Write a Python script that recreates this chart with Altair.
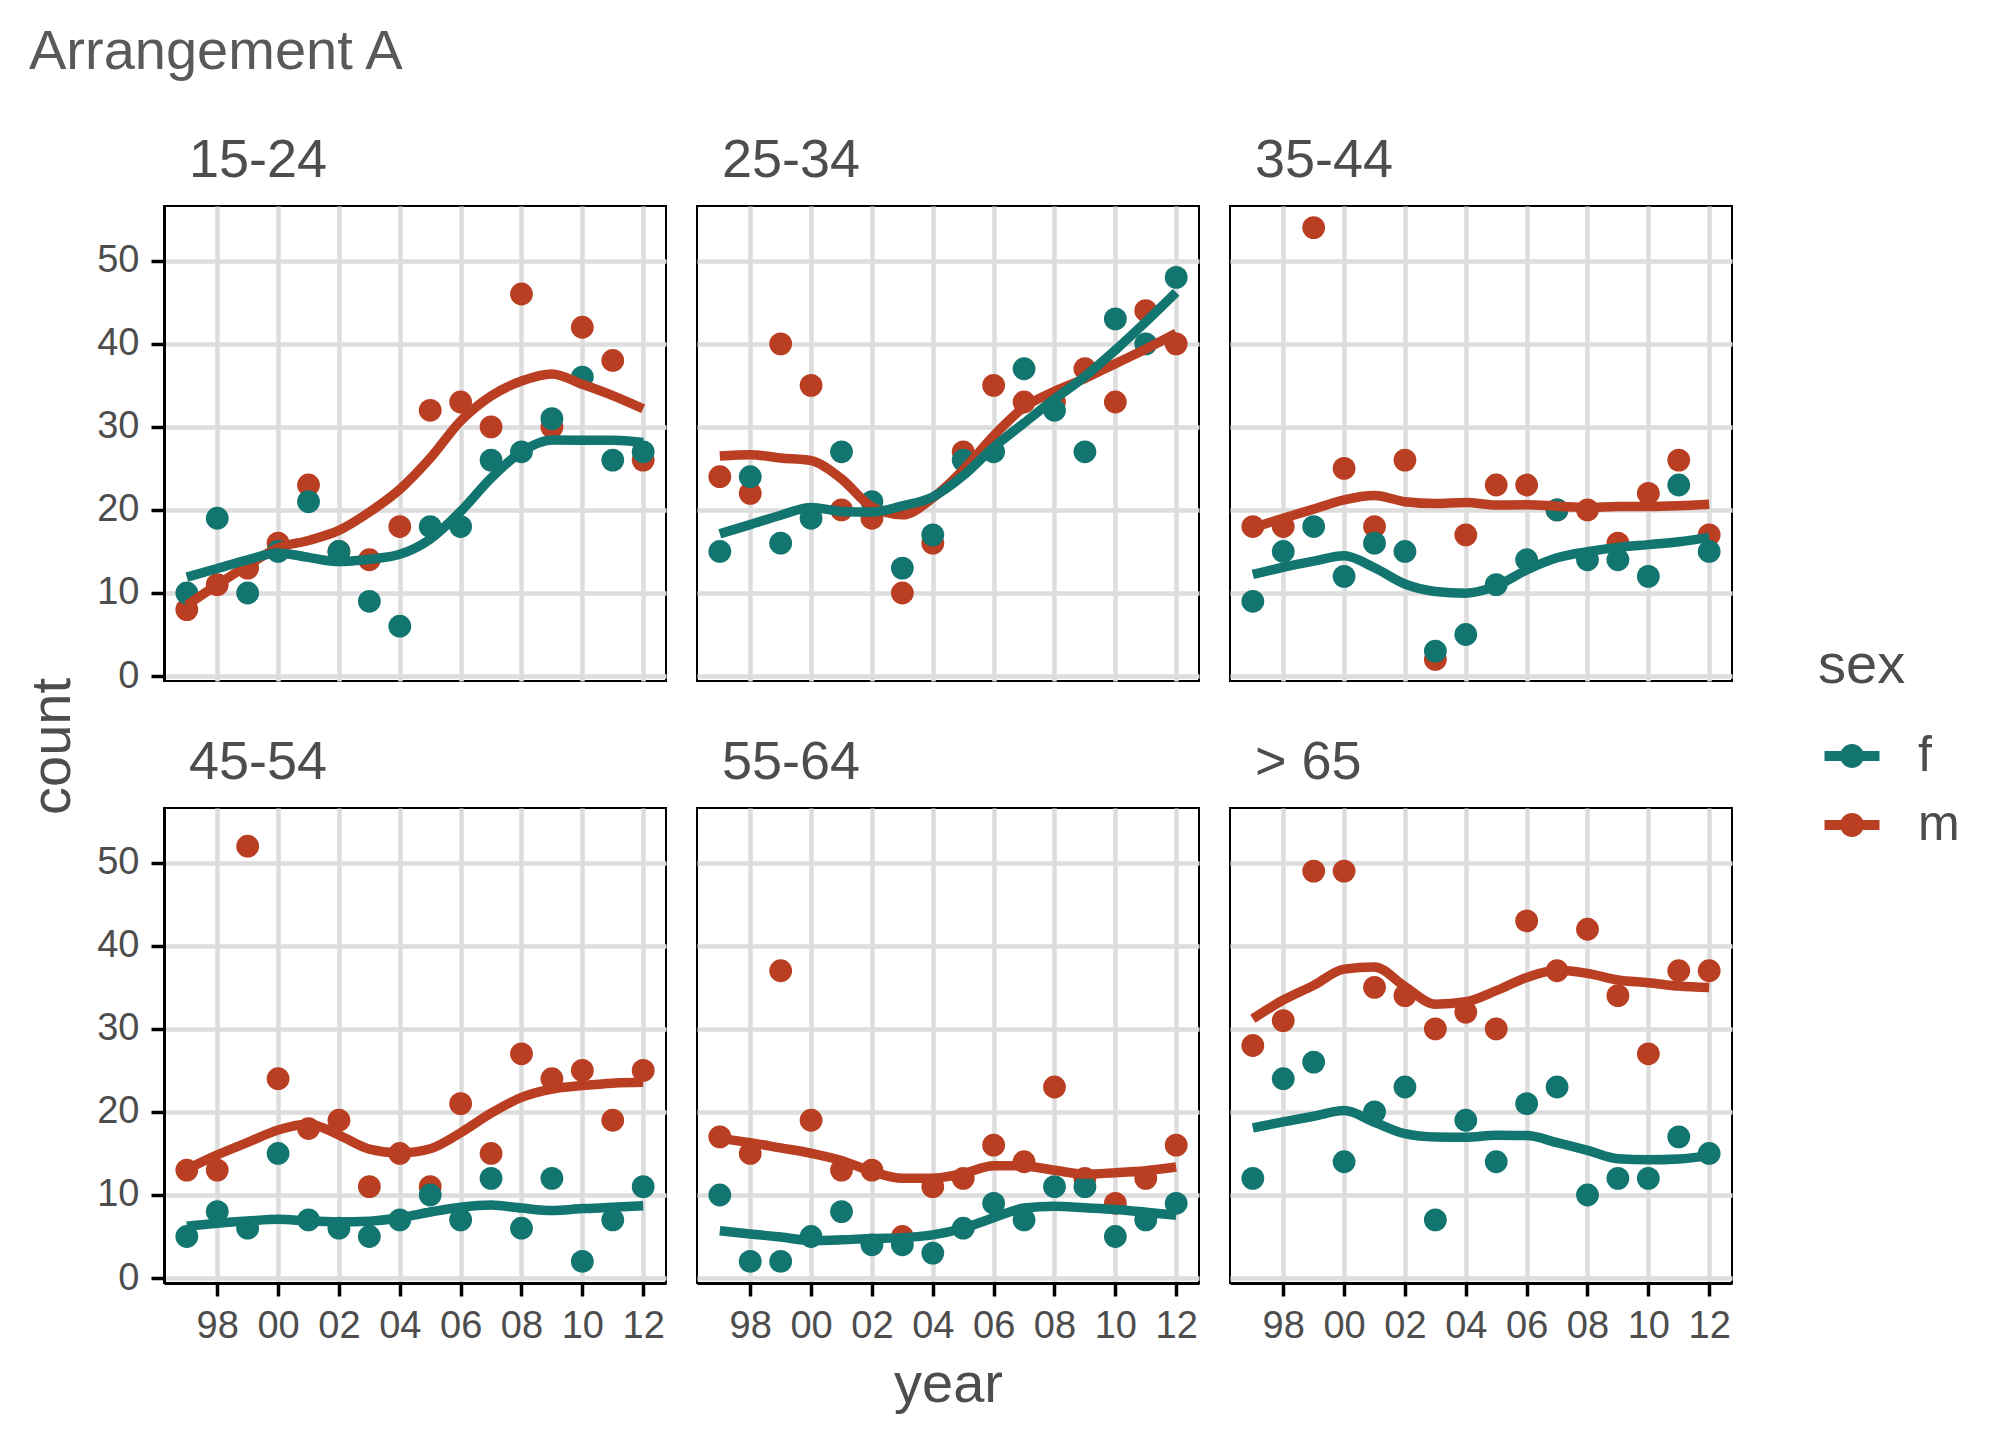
import altair as alt
import pandas as pd

years = list(range(1997, 2013))
groups = ["15-24", "25-34", "35-44", "45-54", "55-64", "> 65"]

f_15_24 = [10, 19, 10, 15, 21, 15, 9, 6, 18, 18, 26, 27, 31, 36, 26, 27]
m_15_24 = [8, 11, 13, 16, 23, 15, 14, 18, 32, 33, 30, 46, 30, 42, 38, 26]
f_25_34 = [15, 24, 16, 19, 27, 21, 13, 17, 26, 27, 37, 32, 27, 43, 40, 48]
m_25_34 = [24, 22, 40, 35, 20, 19, 10, 16, 27, 35, 33, 33, 37, 33, 44, 40]
f_35_44 = [9, 15, 18, 12, 16, 15, 3, 5, 11, 14, 20, 14, 14, 12, 23, 15]
m_35_44 = [18, 18, 54, 25, 18, 26, 2, 17, 23, 23, 20, 20, 16, 22, 26, 17]
f_45_54 = [5, 8, 6, 15, 7, 6, 5, 7, 10, 7, 12, 6, 12, 2, 7, 11]
m_45_54 = [13, 13, 52, 24, 18, 19, 11, 15, 11, 21, 15, 27, 24, 25, 19, 25]
f_55_64 = [10, 2, 2, 5, 8, 4, 4, 3, 6, 9, 7, 11, 11, 5, 7, 9]
m_55_64 = [17, 15, 37, 19, 13, 13, 5, 11, 12, 16, 14, 23, 12, 9, 12, 16]
f_65 = [12, 24, 26, 14, 20, 23, 7, 19, 14, 21, 23, 10, 12, 12, 17, 15]
m_65 = [28, 31, 49, 49, 35, 34, 30, 32, 30, 43, 37, 42, 34, 27, 37, 37]

series_f = [f_15_24, f_25_34, f_35_44, f_45_54, f_55_64, f_65]
series_m = [m_15_24, m_25_34, m_35_44, m_45_54, m_55_64, m_65]

x_ticks = [1998, 2000, 2002, 2004, 2006, 2008, 2010, 2012]
x_labels = ["98", "00", "02", "04", "06", "08", "10", "12"]
y_ticks = [0, 10, 20, 30, 40, 50]

sexes = ["f", "m"]
colors = ["#12756f", "#b93e22"]

rows = []
for g, fs, ms in zip(groups, series_f, series_m):
    # m first so that f points are drawn on top
    for y, v in zip(years, ms):
        rows.append({"group": g, "sex": "m", "year": y, "count": v})
    for y, v in zip(years, fs):
        rows.append({"group": g, "sex": "f", "year": y, "count": v})
df = pd.DataFrame(rows)

W, H = 502, 475
FONT = "Liberation Sans"
TXT = "#4d4d4d"

label_expr = "[" + ",".join("'%s'" % l for l in x_labels) + "][indexof([" + \
    ",".join(str(t) for t in x_ticks) + "], datum.value)]"

legend_path = ("M-1.2,-0.22H1.2V0.22H-1.2Z "
               "M0.52,0A0.52,0.52 0 1,1 -0.52,0A0.52,0.52 0 1,1 0.52,0Z")

xscale = alt.Scale(domain=[1996.25, 2012.75], nice=False, zero=False)
yscale = alt.Scale(domain=[-0.6, 56.6], nice=False, zero=False)
cscale = alt.Scale(domain=sexes, range=colors)


def panel(i, g):
    r, c = divmod(i, 3)
    bottom = r == 1
    left = c == 0

    xa = dict(values=x_ticks, labels=bottom, ticks=bottom, domain=bottom,
              labelExpr=label_expr)
    xt = None
    if bottom and c == 1:
        xt = "year"
        xa.update(titleY=118, titleX=W / 2,
                  titleBaseline="alphabetic", titleAlign="center")
    ya = dict(values=y_ticks, labels=left, ticks=left, domain=left)
    yt = None
    if left and not bottom:
        yt = "count"
        ya.update(titleX=-95, titleY=540, titleAngle=270,
                  titleAlign="center", titleBaseline="alphabetic")

    x_enc = alt.X("year:Q", scale=xscale, axis=alt.Axis(**xa), title=xt)
    y_enc = alt.Y("count:Q", scale=yscale, axis=alt.Axis(**ya), title=yt)

    base = alt.Chart().transform_filter(alt.datum.group == g)

    pts = base.mark_circle(size=520, opacity=1).encode(
        x=x_enc,
        y=y_enc,
        color=alt.Color(
            "sex:N", scale=cscale,
            legend=alt.Legend(
                title="sex", orient="none", legendX=1654, legendY=433,
                symbolType=legend_path, symbolSize=2100,
                symbolStrokeWidth=0, symbolOpacity=1, symbolOffset=9,
                titleFontSize=56, labelFontSize=50,
                titleFont=FONT, labelFont=FONT,
                titleColor=TXT, labelColor=TXT,
                titleFontWeight="normal", titlePadding=36,
                rowPadding=19, labelOffset=41, padding=0,
            ),
        ),
    )
    line = base.transform_loess(
        "year", "count", groupby=["sex"], bandwidth=0.5
    ).mark_line(strokeWidth=9.5, interpolate="monotone").encode(
        x=alt.X("year:Q", scale=xscale),
        y=alt.Y("count:Q", scale=yscale),
        color=alt.Color("sex:N", scale=cscale, legend=None),
    )
    return alt.layer(pts, line).properties(
        width=W, height=H,
        title=alt.TitleParams(
            g, anchor="start", frame="group", dx=25, offset=-25,
            baseline="alphabetic", fontSize=54, font=FONT, color=TXT,
            fontWeight="normal",
        ),
    )


panels = [panel(i, g) for i, g in enumerate(groups)]

chart = alt.concat(
    *panels, columns=3, spacing={"row": 127, "column": 31}, bounds="flush",
    data=df,
).properties(
    title=alt.TitleParams(
        "Arrangement A", anchor="start", frame="bounds", fontSize=56,
        font=FONT, color="#595959", fontWeight="normal",
        baseline="alphabetic", offset=8, dx=6,
    ),
    padding={"left": 15, "top": 16, "right": 5, "bottom": 5},
).configure_view(
    stroke="black", strokeWidth=2
).configure_axis(
    gridColor="#dddddd", gridWidth=4.5, gridOpacity=1,
    domainColor="black", domainWidth=3,
    tickColor="black", tickWidth=3.5, tickSize=13,
    labelFont=FONT, labelFontSize=38, labelColor=TXT, labelPadding=12,
    titleFont=FONT, titleFontSize=56, titleColor=TXT,
    titleFontWeight="normal",
).configure_axisX(
    labelPadding=11
).configure_axisY(
    labelPadding=12
)

chart.save("out.html", embed_options={"renderer": "svg", "actions": False})
